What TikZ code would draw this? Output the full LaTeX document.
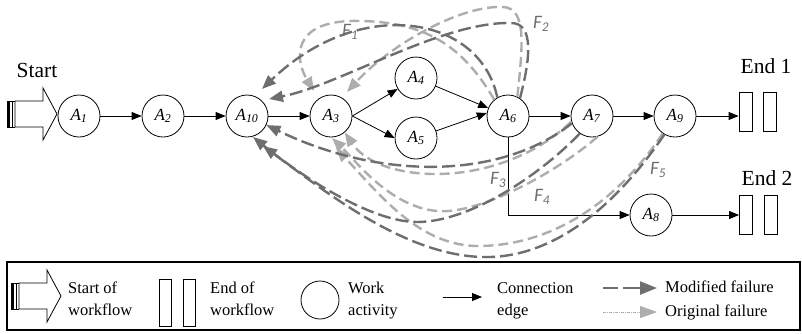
\documentclass[tikz,border=0pt]{standalone}
\usepackage{fontspec}
\setmainfont{Liberation Serif}
\newfontfamily\flabfont{Carlito}
\usetikzlibrary{arrows.meta,calc}

\definecolor{moddark}{HTML}{6E6E6E}
\definecolor{origlight}{HTML}{ADADAD}

\tikzset{
  startarrow/.pic={
    \fill (0,-13) rectangle (3,13);
    \draw[line width=0.8pt] (0,-13) -- (8,-13) (0,13) -- (8,13) (5.5,-13) -- (5.5,13);
    \draw[line width=0.8pt,fill=white] (8,-13) -- (36,-13) -- (36,-26) -- (50,0)
      -- (36,26) -- (36,13) -- (8,13) -- cycle;
  }
}

\begin{document}
\begin{tikzpicture}[x=1pt,y=-1pt,
  act/.style={circle,draw,line width=0.8pt,minimum size=42pt,inner sep=0pt,
    font=\fontsize{17}{17}\selectfont},
  endbar/.style={draw,line width=0.8pt,minimum width=13pt,minimum height=39pt,inner sep=0pt},
  flow/.style={line width=0.8pt,-{Triangle[length=10pt,width=8pt]}},
  modfail/.style={draw=moddark,line width=2.4pt,dash pattern=on 13pt off 5pt,
    -{Triangle[length=14pt,width=11pt,fill=moddark]}},
  origfail/.style={draw=origlight,line width=2.4pt,dash pattern=on 10pt off 5pt,
    -{Triangle[length=14pt,width=11pt,fill=origlight]}},
  flabel/.style={text=moddark,inner sep=0pt,font=\flabfont\itshape\fontsize{19}{19}\selectfont},
  headtext/.style={anchor=base,inner sep=0pt,font=\fontsize{21.5}{21.5}\selectfont},
  legtext/.style={anchor=base west,inner sep=0pt,font=\fontsize{16.5}{16.5}\selectfont}
]
\useasboundingbox (0,0) rectangle (802,333);

% ---------- workflow ----------
\pic at (7,114) {startarrow};
\node[headtext] (start) at (37,77) {Start};

\node[act] (A1)  at (79,116)  {\textit{A}\textsubscript{\textit{1}}};
\node[act] (A2)  at (163,116) {\textit{A}\textsubscript{\textit{2}}};
\node[act] (A10) at (247,116) {\textit{A}\textsubscript{\textit{10}}};
\node[act] (A3)  at (331,116) {\textit{A}\textsubscript{\textit{3}}};
\node[act] (A4)  at (416,78)  {\textit{A}\textsubscript{\textit{4}}};
\node[act] (A5)  at (416,138) {\textit{A}\textsubscript{\textit{5}}};
\node[act] (A6)  at (508,116) {\textit{A}\textsubscript{\textit{6}}};
\node[act] (A7)  at (592,116) {\textit{A}\textsubscript{\textit{7}}};
\node[act] (A9)  at (675,116) {\textit{A}\textsubscript{\textit{9}}};
\node[act] (A8)  at (651,215) {\textit{A}\textsubscript{\textit{8}}};

\node[endbar] (E1a) at (745.5,111.5) {};
\node[endbar] (E1b) at (770,111.5) {};
\node[endbar] (E2a) at (746,215) {};
\node[endbar] (E2b) at (770.5,215) {};
\node[headtext] (end1) at (766,73) {End 1};
\node[headtext] (end2) at (767,185) {End 2};

\draw[flow] (A1) -- (A2);
\draw[flow] (A2) -- (A10);
\draw[flow] (A10) -- (A3);
\draw[flow] (A3.east) -- (A4);
\draw[flow] (A3.east) -- (A5.west);
\draw[flow] (A4) -- (A6.158);
\draw[flow] (A5) -- (A6.172);
\draw[flow] (A6) -- (A7);
\draw[flow] (A7) -- (A9);
\draw[flow] (A9) -- (A9 -| E1a.west);
\draw[flow] (A6.south) |- (A8);
\draw[flow] (A8) -- (E2a);

% ---------- original failures ----------
\draw[origfail] (A6.130) .. controls (465,50) and (430,22) .. (360,21)
  .. controls (290,19) and (295,60) .. ($(A3)+(-17,-25)$);
\draw[origfail] (A6.64) .. controls (522,50) and (528,8) .. (503,7)
  .. controls (460,5) and (390,45) .. ($(A3)+(16,-24)$);
\draw[origfail] (A7.195) .. controls (500,190) and (380,185) .. (A3.-50);
\draw[origfail] (A7.-75) .. controls (560,170) and (480,215) .. (437,211)
  .. controls (390,207) and (355,160) .. ($(A3)+(1,22)$);
\draw[origfail] (A9.235) .. controls (615,205) and (550,245) .. (480,246)
  .. controls (420,247) and (380,195) .. ($(A3)+(5,32)$);

% ---------- modified failures ----------
\draw[modfail] (A6.120) .. controls (480,15) and (360,-5) .. ($(A10)+(15,-27)$);
\draw[modfail] (A6.56) .. controls (530,60) and (535,22) .. (510,23)
  .. controls (440,22) and (340,85) .. ($(A10)+(22,-17)$);
\draw[modfail] (A7.200) .. controls (500,180) and (380,180) .. (A10.-25);
\draw[modfail] (A7.235) .. controls (540,175) and (470,222) .. (417,222)
  .. controls (370,222) and (300,175) .. ($(A10)+(6,21)$);
\draw[modfail] (A9.240) .. controls (620,200) and (560,255) .. (490,257)
  .. controls (410,259) and (330,195) .. ($(A10)+(16,30)$);

\node[flabel] (F1) at (350,32)  {F\textsubscript{1}};
\node[flabel] (F2) at (541,24)  {F\textsubscript{2}};
\node[flabel] (F3) at (498,180) {F\textsubscript{3}};
\node[flabel] (F4) at (542,197) {F\textsubscript{4}};
\node[flabel] (F5) at (658,170) {F\textsubscript{5}};

% ---------- legend ----------
\draw[line width=1.2pt] (7,262) rectangle (800,330);

\pic at (11,296) {startarrow};
\node[legtext] (lg1a) at (68,293) {Start of};
\node[legtext] (lg1b) at (68,315) {workflow};

\node[draw,line width=0.8pt,minimum width=12pt,minimum height=47pt,inner sep=0pt] (lgE1) at (165,303) {};
\node[draw,line width=0.8pt,minimum width=12pt,minimum height=47pt,inner sep=0pt] (lgE2) at (189,303) {};
\node[legtext] (lg2a) at (210,293) {End of};
\node[legtext] (lg2b) at (210,315) {workflow};

\node[circle,draw,line width=0.8pt,minimum size=38pt,inner sep=0pt] (lgC) at (320,300) {};
\node[legtext] (lg3a) at (348,293) {Work};
\node[legtext] (lg3b) at (348,315) {activity};

\coordinate (lgA1) at (443,297);
\coordinate (lgA2) at (482,297);
\draw[flow] (lgA1) -- (lgA2);
\node[legtext] (lg4a) at (497,293) {Connection};
\node[legtext] (lg4b) at (497,315) {edge};

\coordinate (lgM1) at (603,288);
\coordinate (lgM2) at (618,288);
\coordinate (lgM3) at (623,288);
\coordinate (lgM4) at (657,288);
\draw[moddark,line width=2.4pt] (lgM1) -- (lgM2);
\draw[moddark,line width=2.4pt,-{Triangle[length=17pt,width=13pt]}] (lgM3) -- (lgM4);
\node[legtext] (lg5) at (665,292) {Modified failure};

\coordinate (lgO1) at (603,312);
\coordinate (lgO2) at (657,312);
\draw[origlight,line width=0.8pt,dash pattern=on 3pt off 1pt on 1pt off 1pt,
  -{Triangle[length=17pt,width=12pt]}] (lgO1) -- (lgO2);
\node[legtext] (lg6) at (665,316) {Original failure};
\end{tikzpicture}
\end{document}
